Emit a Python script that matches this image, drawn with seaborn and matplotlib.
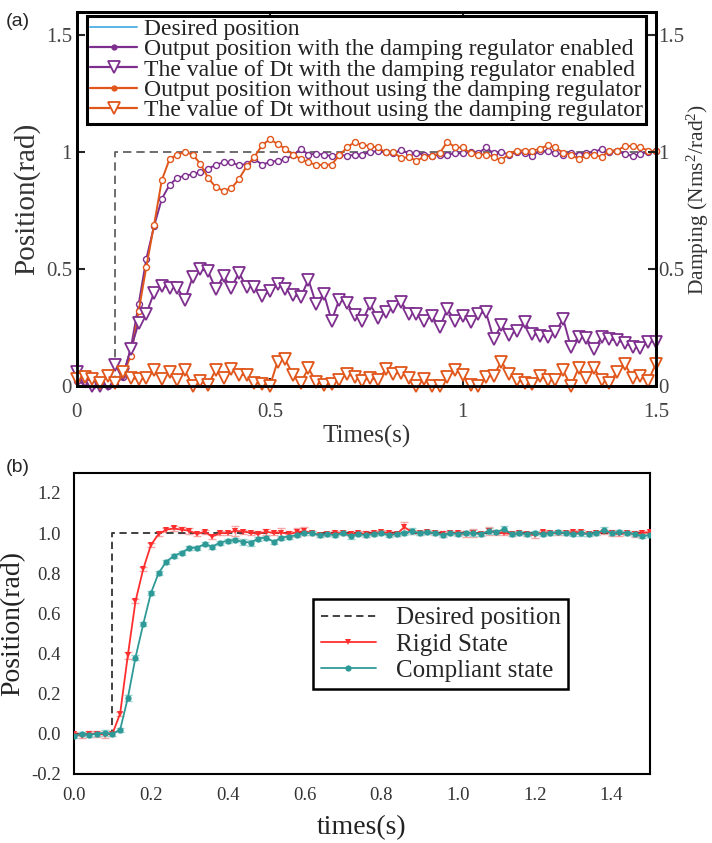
import numpy as np
import pandas as pd
import matplotlib
matplotlib.use("Agg")
import matplotlib.pyplot as plt
import seaborn as sns
from matplotlib.lines import Line2D
from matplotlib.ticker import MultipleLocator, FixedLocator

# ---------------- data ----------------
time_s = [0.00, 0.02, 0.04, 0.06, 0.08, 0.10, 0.12, 0.14, 0.16, 0.18,
          0.20, 0.22, 0.24, 0.26, 0.28, 0.30, 0.32, 0.34, 0.36, 0.38,
          0.40, 0.42, 0.44, 0.46, 0.48, 0.50, 0.52, 0.54, 0.56, 0.58,
          0.60, 0.62, 0.64, 0.66, 0.68, 0.70, 0.72, 0.74, 0.76, 0.78,
          0.80, 0.82, 0.84, 0.86, 0.88, 0.90, 0.92, 0.94, 0.96, 0.98,
          1.00, 1.02, 1.04, 1.06, 1.08, 1.10, 1.12, 1.14, 1.16, 1.18,
          1.20, 1.22, 1.24, 1.26, 1.28, 1.30, 1.32, 1.34, 1.36, 1.38,
          1.40, 1.42, 1.44, 1.46, 1.48, 1.50]

# (a) output position with damping regulator enabled
pos_with = [0.02, 0.01, 0.00, 0.01, 0.00, 0.01, 0.04, 0.165, 0.35, 0.545,
            0.684, 0.80, 0.86, 0.89, 0.90, 0.905, 0.915, 0.93, 0.945, 0.957,
            0.957, 0.943, 0.95, 0.97, 0.947, 0.957, 0.964, 0.97, 0.986, 1.014,
            0.99, 0.993, 0.99, 0.983, 0.99, 0.983, 0.99, 0.99, 1.0, 1.005,
            1.0, 0.995, 1.01, 0.995, 0.995, 0.99, 0.985, 0.99, 0.99, 0.995,
            0.995, 1.0, 0.995, 1.02, 0.995, 1.0, 0.99, 1.0, 0.997, 0.983,
            1.007, 1.003, 0.997, 0.99, 0.997, 0.99, 0.997, 1.0, 1.014, 1.0,
            1.003, 0.993, 0.983, 0.993, 1.0, 1.003]
# (a) Dt with damping regulator enabled
dt_with = [0.06, 0.02, 0.0, 0.0, 0.01, 0.09, 0.05, 0.16, 0.27, 0.31,
           0.40, 0.43, 0.42, 0.42, 0.37, 0.466, 0.50, 0.49, 0.415, 0.47,
           0.42, 0.485, 0.423, 0.425, 0.387, 0.405, 0.435, 0.415, 0.39, 0.38,
           0.455, 0.35, 0.395, 0.28, 0.37, 0.355, 0.305, 0.28, 0.35, 0.29,
           0.316, 0.337, 0.36, 0.31, 0.31, 0.28, 0.30, 0.252, 0.33, 0.28,
           0.30, 0.273, 0.31, 0.316, 0.202, 0.26, 0.22, 0.236, 0.274, 0.224,
           0.216, 0.21, 0.23, 0.288, 0.167, 0.21, 0.205, 0.157, 0.21, 0.20,
           0.195, 0.185, 0.167, 0.162, 0.19, 0.19]
# (a) output position without damping regulator
pos_without = [0.03, 0.02, 0.03, 0.01, 0.02, 0.02, 0.05, 0.13, 0.32, 0.51,
               0.69, 0.88, 0.97, 0.99, 1.0, 0.99, 0.95, 0.89, 0.85, 0.835,
               0.845, 0.885, 0.94, 0.98, 1.03, 1.055, 1.035, 1.015, 0.99, 0.97,
               0.957, 0.945, 0.946, 0.947, 0.986, 1.02, 1.043, 1.03, 1.026, 1.02,
               1.0, 1.0, 0.975, 0.978, 0.964, 0.98, 0.985, 0.995, 1.045, 1.02,
               1.02, 0.995, 0.99, 0.99, 0.98, 0.965, 0.993, 1.007, 1.007, 1.007,
               1.014, 1.03, 1.02, 0.997, 0.99, 0.97, 0.986, 0.99, 0.98, 1.007,
               1.007, 1.026, 1.026, 1.02, 1.007, 1.003]
# (a) Dt without damping regulator
dt_without = [0.03, 0.04, 0.03, 0.014, 0.045, 0.014, 0.062, 0.034, 0.03, 0.034,
              0.067, 0.03, 0.062, 0.024, 0.067, 0.0, 0.02, 0.006, 0.07, 0.033,
              0.071, 0.048, 0.048, 0.014, 0.01, 0.0, 0.105, 0.114, 0.048, 0.014,
              0.077, 0.017, 0.006, 0.01, 0.024, 0.053, 0.038, 0.022, 0.036, 0.024,
              0.071, 0.053, 0.057, 0.034, 0.0, 0.031, 0.0, 0.0, 0.038, 0.067,
              0.048, 0.006, 0.0, 0.038, 0.045, 0.105, 0.05, 0.028, 0.014, 0.01,
              0.045, 0.024, 0.024, 0.067, 0.0, 0.077, 0.034, 0.077, 0.024, 0.014,
              0.062, 0.095, 0.034, 0.045, 0.02, 0.095]

# (b) rigid / compliant states
rigid = [0.0, -0.01, 0.0, 0.0, -0.005, 0.0, 0.10, 0.39, 0.66, 0.82,
         0.94, 0.995, 1.017, 1.023, 1.017, 1.012, 0.995, 1.007, 0.983, 1.0,
         1.0, 1.012, 1.007, 1.003, 0.995, 1.007, 1.0, 1.003, 0.995, 1.005,
         1.01, 1.0, 0.99, 0.995, 1.0, 1.0, 0.995, 1.0, 0.995, 1.0,
         1.005, 1.0, 0.995, 1.03, 1.005, 1.0, 1.005, 1.0, 0.995, 1.0,
         1.0, 0.995, 1.0, 0.995, 1.01, 1.0, 1.0, 0.995, 1.0, 0.995,
         0.99, 1.005, 1.0, 1.0, 1.0, 1.005, 1.005, 0.995, 1.0, 1.005,
         1.0, 0.995, 1.0, 0.995, 1.0, 1.005]
rigid_err = [0.01, 0.01, 0.015, 0.015, 0.015, 0.01, 0.01, 0.015, 0.01, 0.01,
             0.01, 0.01, 0.01, 0.01, 0.015, 0.015, 0.01, 0.01, 0.01, 0.01,
             0.01, 0.025, 0.01, 0.01, 0.015, 0.015, 0.01, 0.02, 0.015, 0.02,
             0.02, 0.01, 0.01, 0.01, 0.01, 0.01, 0.01, 0.01, 0.015, 0.01,
             0.01, 0.01, 0.01, 0.025, 0.01, 0.01, 0.01, 0.01, 0.015, 0.01,
             0.01, 0.015, 0.02, 0.01, 0.02, 0.01, 0.01, 0.01, 0.01, 0.01,
             0.015, 0.01, 0.01, 0.01, 0.01, 0.01, 0.01, 0.01, 0.01, 0.01,
             0.015, 0.01, 0.01, 0.015, 0.01, 0.01]
compliant = [-0.01, 0.0, -0.005, 0.0, 0.005, 0.0, 0.02, 0.178, 0.38, 0.545,
             0.70, 0.80, 0.857, 0.887, 0.903, 0.925, 0.928, 0.945, 0.933, 0.953,
             0.962, 0.965, 0.957, 0.953, 0.973, 0.978, 0.957, 0.978, 0.983, 0.99,
             1.0, 1.0, 0.99, 0.995, 0.99, 1.0, 0.985, 0.995, 0.99, 0.995,
             1.0, 0.99, 0.995, 1.0, 1.01, 1.0, 1.005, 1.0, 0.99, 1.0,
             0.995, 1.0, 1.0, 0.995, 1.01, 1.005, 1.02, 0.995, 1.0, 0.995,
             1.0, 0.995, 1.0, 1.005, 1.0, 0.995, 1.0, 0.995, 1.0, 1.015,
             1.0, 1.005, 1.0, 0.995, 0.985, 0.99]
compliant_err = [0.01, 0.01, 0.01, 0.01, 0.015, 0.01, 0.01, 0.015, 0.01, 0.01,
                 0.01, 0.01, 0.01, 0.01, 0.01, 0.01, 0.01, 0.01, 0.01, 0.01,
                 0.01, 0.01, 0.015, 0.015, 0.01, 0.01, 0.01, 0.01, 0.01, 0.01,
                 0.01, 0.01, 0.01, 0.01, 0.01, 0.01, 0.015, 0.01, 0.01, 0.01,
                 0.01, 0.01, 0.01, 0.01, 0.015, 0.01, 0.01, 0.01, 0.01, 0.01,
                 0.01, 0.01, 0.015, 0.01, 0.015, 0.01, 0.015, 0.01, 0.01, 0.01,
                 0.01, 0.01, 0.01, 0.01, 0.01, 0.01, 0.015, 0.01, 0.01, 0.015,
                 0.01, 0.01, 0.01, 0.01, 0.01, 0.01]

desired_t = [0.0, 0.1, 0.1, 1.5]
desired_v = [0.0, 0.0, 1.0, 1.0]

a_ticks = [0, 0.5, 1, 1.5]
a_ticklabels = ["0", "0.5", "1", "1.5"]
b_xticks = [0.0, 0.2, 0.4, 0.6, 0.8, 1.0, 1.2, 1.4]
b_yticks = [-0.2, 0.0, 0.2, 0.4, 0.6, 0.8, 1.0, 1.2]

labels_a = ["Desired position",
            "Output position with the damping regulator enabled",
            "The value of Dt with the damping regulator enabled",
            "Output position without using the damping regulator",
            "The value of Dt without using the damping regulator"]
labels_b = ["Desired position", "Rigid State", "Compliant state"]

# ---------------- style ----------------
sns.set_style("white")
SERIF = ["Liberation Serif", "DejaVu Serif"]
plt.rcParams["font.family"] = SERIF
plt.rcParams["mathtext.fontset"] = "custom"
plt.rcParams["mathtext.rm"] = "Liberation Serif"
plt.rcParams["mathtext.it"] = "Liberation Serif:italic"

PURPLE = "#7E2F8E"
ORANGE = "#E0561B"
LBLUE = "#5AB4E5"
RED = "#FF2E2E"
TEAL = "#2E9A98"

fig = plt.figure(figsize=(7.12, 8.43), dpi=100)

# ================= panel (a) =================
ax = fig.add_axes([0.108, 0.542, 0.813, 0.444])
ax2 = ax.twinx()

sns.lineplot(x=desired_t, y=desired_v, ax=ax, color="#555555", lw=1.2,
             linestyle=(0, (5, 3)), sort=False, estimator=None, legend=False)
sns.lineplot(x=time_s, y=pos_with, ax=ax, color=PURPLE, lw=1.4, marker="o",
             markersize=4.3, markerfacecolor="white", markeredgecolor=PURPLE,
             markeredgewidth=1.0, clip_on=False, legend=False)
sns.lineplot(x=time_s, y=pos_without, ax=ax, color=ORANGE, lw=1.4, marker="o",
             markersize=4.3, markerfacecolor="white", markeredgecolor=ORANGE,
             markeredgewidth=1.0, clip_on=False, legend=False)
sns.lineplot(x=time_s, y=dt_with, ax=ax2, color=PURPLE, lw=1.4, marker="v",
             markersize=8, markerfacecolor="white", markeredgecolor=PURPLE,
             markeredgewidth=1.3, clip_on=False, legend=False)
sns.lineplot(x=time_s, y=dt_without, ax=ax2, color=ORANGE, lw=1.4, marker="v",
             markersize=8, markerfacecolor="white", markeredgecolor=ORANGE,
             markeredgewidth=1.3, clip_on=False, legend=False)

for a in (ax, ax2):
    a.set_xlim(0, 1.5)
    a.set_ylim(0, 1.6)
    for s in a.spines.values():
        s.set_linewidth(2.0)
        s.set_color("black")

ax.xaxis.set_major_locator(FixedLocator(a_ticks))
ax.set_xticklabels(a_ticklabels)
ax.yaxis.set_major_locator(FixedLocator(a_ticks))
ax.set_yticklabels(a_ticklabels)
ax2.yaxis.set_major_locator(FixedLocator(a_ticks))
ax2.set_yticklabels(a_ticklabels)
ax.tick_params(axis="both", direction="in", length=6, width=1.5, labelsize=15,
               labelcolor="#444444", top=True, bottom=True, left=True, right=False)
ax.tick_params(axis="x", pad=12)
ax2.tick_params(axis="y", direction="in", length=6, width=1.5, labelsize=15,
                labelcolor="#444444", right=True, pad=2)
ax.set_xlabel("Times(s)", fontsize=18, color="#333333", labelpad=2)
ax.set_ylabel("Position(rad)", fontsize=21, color="#333333", labelpad=4)
ax2.set_ylabel("Damping (Nms$^2$/rad$^2$)", fontsize=15.5, color="#333333",
               labelpad=0)

handles_a = [
    Line2D([], [], color=LBLUE, lw=1.4),
    Line2D([], [], color=PURPLE, lw=1.6, marker="o", markersize=3.5,
           markerfacecolor=PURPLE),
    Line2D([], [], color=PURPLE, lw=1.6, marker="v", markersize=8,
           markerfacecolor="white", markeredgewidth=1.3),
    Line2D([], [], color=ORANGE, lw=1.6, marker="o", markersize=3.5,
           markerfacecolor=ORANGE),
    Line2D([], [], color=ORANGE, lw=1.6, marker="v", markersize=8,
           markerfacecolor="white", markeredgewidth=1.3),
]
leg = ax2.legend(handles_a, labels_a, loc="upper left",
                 bbox_to_anchor=(0.018, 0.99), fontsize=17, frameon=True,
                 fancybox=False, edgecolor="black", framealpha=1,
                 handlelength=2.0, handletextpad=0.3, labelspacing=-0.05,
                 borderpad=0.12, borderaxespad=0.0)
leg.get_frame().set_linewidth(2.2)
for t in leg.get_texts():
    t.set_color("#222222")

fig.text(0.008, 0.985, "(a)", fontsize=14, family=["Liberation Sans", "DejaVu Sans"],
         va="top", ha="left")

# ================= panel (b) =================
bx = fig.add_axes([0.104, 0.082, 0.809, 0.357])
bx.errorbar(time_s, rigid, yerr=rigid_err, fmt="none", ecolor="#F7A6A6",
            elinewidth=1.0, capsize=3, capthick=1.0, zorder=2)
bx.errorbar(time_s, compliant, yerr=compliant_err, fmt="none", ecolor="#9AD3D0",
            elinewidth=1.0, capsize=3, capthick=1.0, zorder=2)
sns.lineplot(x=desired_t, y=desired_v, ax=bx, color="#333333", lw=1.3,
             linestyle=(0, (4, 2.5)), sort=False, estimator=None, legend=False,
             zorder=3)
sns.lineplot(x=time_s, y=rigid, ax=bx, color=RED, lw=1.3, marker="v",
             markersize=4.5, markeredgewidth=0, legend=False, zorder=4)
sns.lineplot(x=time_s, y=compliant, ax=bx, color=TEAL, lw=1.3, marker="o",
             markersize=4.5, markeredgewidth=0, legend=False, zorder=5)

bx.set_xlim(0, 1.5)
bx.set_ylim(-0.2, 1.3)
bx.xaxis.set_major_locator(FixedLocator(b_xticks))
bx.xaxis.set_minor_locator(MultipleLocator(0.1))
bx.yaxis.set_major_locator(FixedLocator(b_yticks))
bx.yaxis.set_minor_locator(MultipleLocator(0.1))
bx.set_xticklabels([f"{v:.1f}" for v in b_xticks])
bx.set_yticklabels([f"{v:.1f}" for v in b_yticks])
bx.tick_params(axis="both", which="major", direction="out", length=6, width=1.3,
               labelsize=13.5, labelcolor="#333333", top=False, right=False)
bx.tick_params(axis="both", which="minor", direction="out", length=3.5, width=1.1,
               top=False, right=False)
for s in bx.spines.values():
    s.set_linewidth(1.5)
    s.set_color("black")
bx.set_xlabel("times(s)", fontsize=20, color="#222222", labelpad=8)
bx.set_ylabel("Position(rad)", fontsize=20, color="#222222", labelpad=4)

handles_b = [
    Line2D([], [], color="#333333", lw=1.3, linestyle=(0, (4, 2.5))),
    Line2D([], [], color=RED, lw=1.3, marker="v", markersize=4.5, markeredgewidth=0),
    Line2D([], [], color=TEAL, lw=1.3, marker="o", markersize=4.5, markeredgewidth=0),
]
legb = bx.legend(handles_b, labels_b, loc="upper left",
                 bbox_to_anchor=(0.415, 0.58), fontsize=18, frameon=True,
                 fancybox=False, edgecolor="black", framealpha=1,
                 handlelength=2.2, handletextpad=0.8, labelspacing=0.15,
                 borderpad=0.3, borderaxespad=0.0)
legb.get_frame().set_linewidth(1.8)

fig.text(0.008, 0.455, "(b)", fontsize=14, family=["Liberation Sans", "DejaVu Sans"],
         va="top", ha="left")

fig.savefig("out.png", dpi=100)
